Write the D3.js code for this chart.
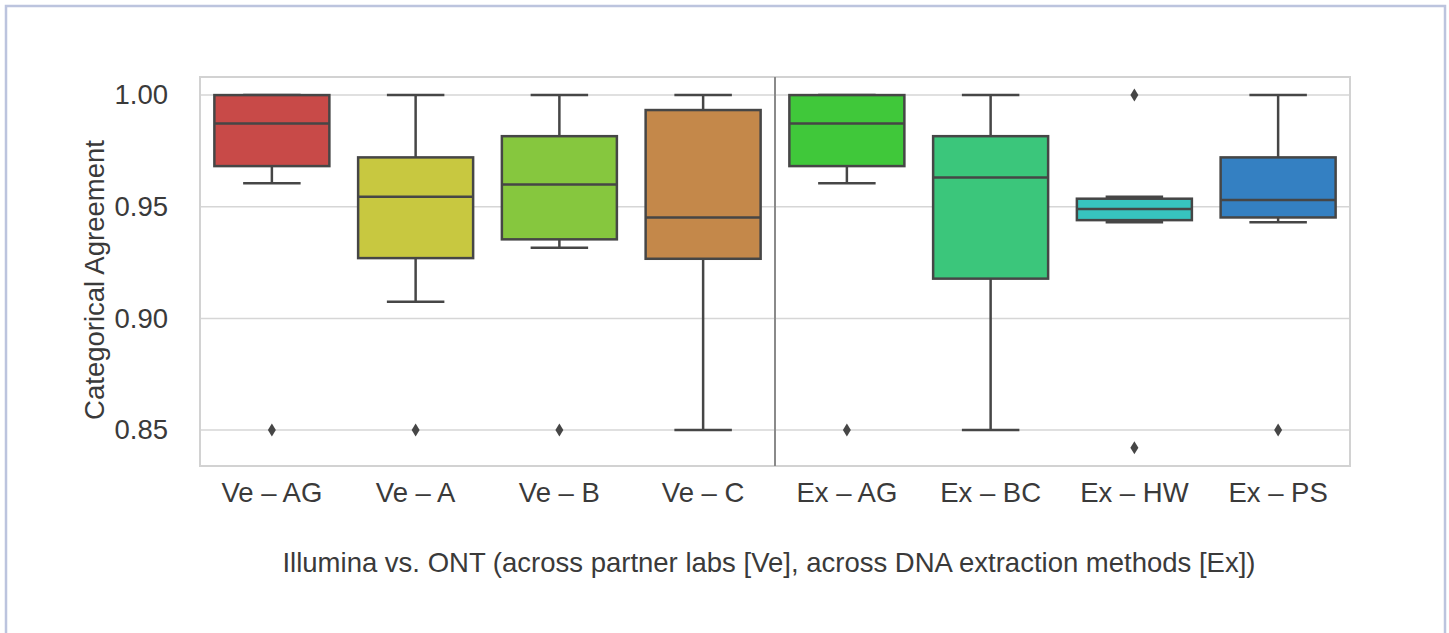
<!DOCTYPE html>
<html>
<head>
<meta charset="utf-8">
<script src="https://cdn.jsdelivr.net/npm/d3@7"></script>
<style>
  html, body { margin: 0; padding: 0; background: #ffffff; }
  svg { display: block; font-family: "Liberation Sans", Arial, Helvetica, sans-serif; }
</style>
</head>
<body>
<svg id="chart" width="1449" height="633"></svg>
<script>
// Categorical agreement (Illumina vs. ONT) per partner lab and DNA extraction method
const categories = ["Ve – AG", "Ve – A", "Ve – B", "Ve – C", "Ex – AG", "Ex – BC", "Ex – HW", "Ex – PS"];
const whiskerLow  = [0.9605, 0.9075, 0.9316, 0.850, 0.9605, 0.850, 0.9431, 0.9431];
const q1          = [0.9682, 0.9270, 0.9354, 0.9267, 0.9682, 0.9178, 0.9440, 0.9452];
const median      = [0.9873, 0.9545, 0.9600, 0.9452, 0.9873, 0.9631, 0.9490, 0.9530];
const q3          = [1.000, 0.9721, 0.9816, 0.9933, 1.000, 0.9816, 0.9536, 0.9721];
const whiskerHigh = [1.000, 1.000, 1.000, 1.000, 1.000, 1.000, 0.9545, 1.000];
const outliers    = [[0.850], [0.850], [0.850], [], [0.850], [], [1.000, 0.8421], [0.850]];
const colors      = ["#c84a48", "#c8c840", "#86c73e", "#c4884a", "#40c83a", "#3bc67b", "#37c4bf", "#3480c2"];
const yTicks      = [0.85, 0.90, 0.95, 1.00];

const svg = d3.select("#chart");
const plot = { left: 200, right: 1350, top: 77, bottom: 466 };
const fontSize = 27.5;
const textColor = "#3a3a3a";

// outer panel border
svg.append("rect")
  .attr("x", 6).attr("y", 6)
  .attr("width", 1439).attr("height", 700)
  .attr("fill", "none")
  .attr("stroke", "#bcc4de")
  .attr("stroke-width", 2.5);

const x = d3.scaleBand()
  .domain(categories)
  .range([plot.left, plot.right])
  .paddingInner(0).paddingOuter(0);

const y = d3.scaleLinear()
  .domain([0.8339, 1.0081])
  .range([plot.bottom, plot.top]);

// horizontal grid
svg.append("g")
  .selectAll("line")
  .data(yTicks)
  .join("line")
  .attr("x1", plot.left).attr("x2", plot.right)
  .attr("y1", d => y(d)).attr("y2", d => y(d))
  .attr("stroke", "#d6d6d6")
  .attr("stroke-width", 1.5);

// frame
svg.append("rect")
  .attr("x", plot.left).attr("y", plot.top)
  .attr("width", plot.right - plot.left).attr("height", plot.bottom - plot.top)
  .attr("fill", "none")
  .attr("stroke", "#d2d2d2")
  .attr("stroke-width", 2);

// separator between partner labs and extraction methods
const sepX = x("Ex – AG");
svg.append("line")
  .attr("x1", sepX).attr("x2", sepX)
  .attr("y1", plot.top).attr("y2", plot.bottom)
  .attr("stroke", "#8a8a8a")
  .attr("stroke-width", 2);

// y tick labels
const yAxis = d3.axisLeft(y).tickValues(yTicks).tickFormat(d3.format(".2f")).tickSize(0).tickPadding(32);
const gy = svg.append("g").attr("transform", `translate(${plot.left},0)`).call(yAxis);
gy.select(".domain").remove();
gy.selectAll("text")
  .attr("font-size", fontSize)
  .attr("fill", textColor)
  .attr("font-family", "'Liberation Sans', Arial, sans-serif");

// x tick labels
const xAxis = d3.axisBottom(x).tickSize(0).tickPadding(16);
const gx = svg.append("g").attr("transform", `translate(0,${plot.bottom})`).call(xAxis);
gx.select(".domain").remove();
gx.selectAll("text")
  .attr("font-size", fontSize)
  .attr("fill", textColor)
  .attr("font-family", "'Liberation Sans', Arial, sans-serif");

// boxes
const bw = x.bandwidth() * 0.8;
const capW = bw / 2;
const stroke = "#464646";
const boxes = svg.append("g");
categories.forEach((c, i) => {
  const cx = x(c) + x.bandwidth() / 2;
  const g = boxes.append("g");
  // whiskers
  g.append("line")
    .attr("x1", cx).attr("x2", cx)
    .attr("y1", y(whiskerHigh[i])).attr("y2", y(q3[i]))
    .attr("stroke", stroke).attr("stroke-width", 2.5);
  g.append("line")
    .attr("x1", cx).attr("x2", cx)
    .attr("y1", y(q1[i])).attr("y2", y(whiskerLow[i]))
    .attr("stroke", stroke).attr("stroke-width", 2.5);
  // caps
  [whiskerHigh[i], whiskerLow[i]].forEach(v => {
    g.append("line")
      .attr("x1", cx - capW / 2).attr("x2", cx + capW / 2)
      .attr("y1", y(v)).attr("y2", y(v))
      .attr("stroke", stroke).attr("stroke-width", 2.5);
  });
  // box
  g.append("rect")
    .attr("x", cx - bw / 2).attr("width", bw)
    .attr("y", y(q3[i])).attr("height", y(q1[i]) - y(q3[i]))
    .attr("fill", colors[i])
    .attr("stroke", stroke).attr("stroke-width", 2.5);
  // median
  g.append("line")
    .attr("x1", cx - bw / 2).attr("x2", cx + bw / 2)
    .attr("y1", y(median[i])).attr("y2", y(median[i]))
    .attr("stroke", stroke).attr("stroke-width", 2.5);
  // outliers
  g.selectAll("path.out")
    .data(outliers[i])
    .join("path")
    .attr("class", "out")
    .attr("d", "M0,-6.5L4,0L0,6.5L-4,0Z")
    .attr("transform", d => `translate(${cx},${y(d)})`)
    .attr("fill", stroke);
});

// axis titles
svg.append("text")
  .attr("x", 769).attr("y", 572)
  .attr("text-anchor", "middle")
  .attr("font-size", fontSize)
  .attr("fill", textColor)
  .text("Illumina vs. ONT (across partner labs [Ve], across DNA extraction methods [Ex])");

svg.append("text")
  .attr("transform", "translate(104,280) rotate(-90)")
  .attr("text-anchor", "middle")
  .attr("font-size", fontSize)
  .attr("fill", textColor)
  .text("Categorical Agreement");
</script>
</body>
</html>
